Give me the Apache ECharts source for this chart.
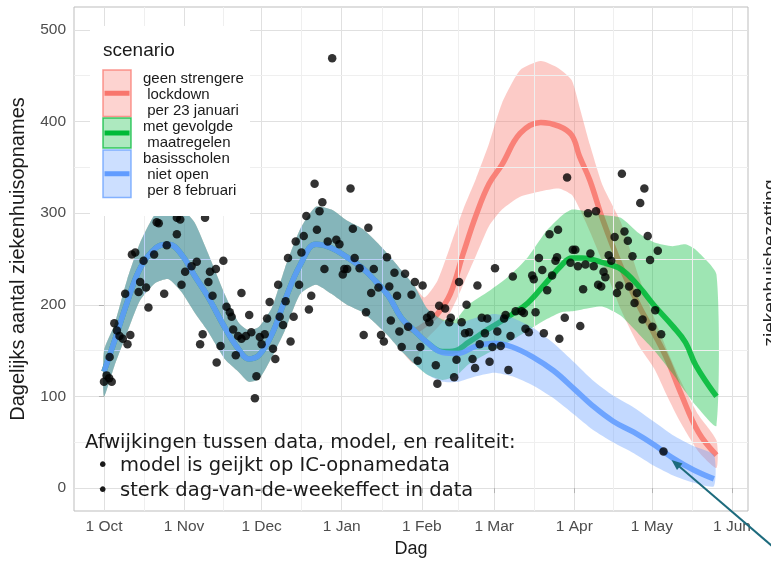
<!DOCTYPE html>
<html>
<head>
<meta charset="utf-8">
<script src="https://cdn.jsdelivr.net/npm/echarts@6/dist/echarts.min.js"></script>
<style>
  html, body { margin: 0; padding: 0; background: #fff; }
  #chart { width: 771px; height: 563px; }
</style>
</head>
<body>
<div id="chart"></div>
<script>
// x = dagen sinds 1 oktober
const monthStarts = [0, 31, 61, 92, 123, 151, 182, 212, 243];
const monthLabels = ['1 Oct', '1 Nov', '1 Dec', '1 Jan', '1 Feb', '1 Mar', '1 Apr', '1 May', '1 Jun'];
const yTicks = [0, 100, 200, 300, 400, 500];
const yMinor = [50, 150, 250, 350, 450];

// gedeelde modelfit (alle scenario's gelijk tot eind januari)
const sharedDays = [0, 4, 9, 14, 20, 25, 30, 35, 40, 47, 52, 56, 60, 65, 70, 76, 82, 88, 94, 100, 105, 110, 115, 120];
const sharedFit  = [127, 160, 203, 240, 262, 266, 255, 232, 210, 174, 152, 141, 145, 168, 205, 244, 266, 262, 252, 240, 226, 210, 186, 172];
const sharedLow  = [100, 133, 170, 205, 224, 228, 214, 192, 172, 140, 127, 116, 119, 143, 172, 212, 222, 212, 200, 192, 180, 166, 150, 136];
const sharedHigh = [150, 178, 228, 268, 300, 308, 305, 290, 258, 210, 181, 172, 176, 197, 240, 283, 307, 304, 292, 283, 270, 255, 238, 221];

// geen strengere lockdown per 23 januari
const redDays = [124, 129, 134, 139, 144, 149, 154, 161, 169, 176, 181, 184, 188, 193, 200, 207, 213, 218, 223, 230, 237];
const redFit  = [178, 190, 212, 256, 298, 332, 353, 387, 399, 395, 385, 362, 336, 293, 242, 199, 168, 140, 105, 61, 36];
const redLow  = [160, 175, 192, 222, 254, 286, 304, 318, 324, 327, 320, 305, 280, 246, 195, 155, 130, 100, 72, 40, 22];
const redHigh = [208, 226, 264, 304, 338, 376, 420, 456, 466, 458, 445, 416, 375, 330, 290, 230, 185, 150, 118, 80, 52];

// met gevolgde maatregelen
const greenDays = [125, 131, 136, 141, 149, 157, 164, 171, 177, 181, 185, 193, 200, 207, 213, 220, 225, 229, 237];
const greenFit  = [159, 149, 150, 159, 174, 188, 202, 224, 243, 251, 251, 246, 239, 220, 199, 177, 159, 134, 100];
const greenLow  = [124, 118, 122, 135, 148, 160, 172, 184, 192, 193, 195, 198, 188, 168, 150, 125, 105, 90, 68];
const greenHigh = [196, 184, 184, 200, 215, 232, 252, 280, 297, 304, 303, 298, 295, 278, 268, 264, 266, 260, 233];

// basisscholen niet open per 8 februari
const blueDays = [125, 131, 137, 144, 151, 158, 166, 174, 182, 189, 197, 205, 213, 220, 228, 236];
const blueFit  = [159, 148, 147, 155, 158, 154, 143, 128, 108, 90, 73, 61, 47, 33, 20, 10];
const blueLow  = [124, 116, 116, 122, 126, 122, 112, 98, 80, 64, 50, 38, 24, 14, 6, 2];
const blueHigh = [196, 183, 180, 186, 190, 186, 175, 158, 137, 118, 101, 88, 72, 58, 46, 36];

// dagelijkse ziekenhuisopnames [dag, aantal]
const admissions = [
  [0,116],[1,123],[2,120],[3,116],[2.2,143],[4,180],[5,172],[6,166],[7.3,163],[9.1,157],[10.2,167],[8.2,212],
  [13.4,214],[14,225],[16.3,219],[17.2,197],[10.8,255],[12.1,257],[15.3,248],[19.4,255],[20.4,290],[21.2,289],
  [24.3,265],[28.2,277],[28.2,295],[29.5,293],[23.3,212],[30,222],[31.4,236],[33.9,242],[35.9,247],[38.2,168],
  [37.2,157],[39.1,295],[41,236],[40.4,225],[42,210],[43.6,137],[46.2,248],[43.3,239],[53.2,213],[47.4,198],
  [48.7,192],[49.4,187],[56.2,189],[50,173],[51.9,166],[53.2,163],[54.9,166],[57,170],[60.3,165],[62.2,168],
  [61,157],[45.1,155],[51,145],[59,122],[58.4,98],[64.1,203],[63.1,185],[67.4,222],[68,187],[69.3,178],
  [70.3,204],[65.4,152],[66.3,141],[72.2,160],[73.4,187],[71.2,251],[74.2,269],[76.4,257],[75.5,222],[77.3,275],
  [78.3,297],[82.4,282],[83.4,302],[84.5,312],[80.2,210],[79.3,195],[85.3,239],[86.6,269],[81.5,332],
  [88.3,469],[95.4,327],[96.3,283],[102.3,284],[89.9,271],[91.1,266],[97,251],[93,239],[94.1,239],[92.4,233],
  [98.9,240],[104.4,239],[109.5,252],[112.4,235],[116.5,234],[103.4,213],[106.2,219],[110.4,220],[113.4,210],
  [119,211],[120.3,225],[123.3,221],[101.4,192],[100.5,167],[107.2,167],[108.3,160],[111,183],[114.3,171],
  [117.7,176],[115.2,154],[122.4,154],[121.4,139],[125,186],[126.5,189],[125.9,181],[129.7,199],[128.4,134],[129,114],
  [137.4,225],[144.5,221],[151.3,240],[158.2,231],[132,196],[134.2,186],[133.6,181],[140.3,200],[138.4,181],
  [139.7,169],[141.3,170],[146.2,186],[148.3,185],[147.4,169],[145.4,157],[150.3,154],[152.2,171],[153.5,155],
  [154.8,185],[155.4,189],[157.3,166],[159.3,193],[161.6,193],[162.5,191],[167,192],[149.2,138],[142.6,141],
  [143.6,131],[136.4,140],[135.5,121],[156.5,129],[163.1,174],[164.4,170],[170.2,169],[176.2,163],[172.4,277],
  [168.3,251],[165.7,232],[166.3,228],[169.6,238],[173.4,232],[174.7,248],[171.5,216],[175.7,282],[175.3,252],
  [179.2,339],[200.4,343],[209.1,327],[207.5,311],[187.3,300],[190.4,302],[201.4,280],[197.6,274],[202.7,270],
  [210.4,275],[214.3,259],[211.3,249],[204.5,253],[181.4,260],[182.4,260],[188.2,256],[195.3,254],[196.3,248],
  [180.5,246],[183.4,242],[186.3,244],[189.5,242],[193.3,236],[194,230],[191.2,222],[192.4,220],[199.4,221],
  [203.2,220],[198.5,213],[206.2,213],[205.3,202],[185.4,217],[213.3,194],[208.4,184],[212.2,176],[215.6,168],
  [178.3,186],[184.3,177],[216.5,40]
];

const scenarios = [
  { name: 'geen strengere\n lockdown\n per 23 januari', color: '#F8766D',
    days: redDays, fit: redFit, low: redLow, high: redHigh },
  { name: 'met gevolgde\n maatregelen', color: '#00BA38',
    days: greenDays, fit: greenFit, low: greenLow, high: greenHigh },
  { name: 'basisscholen\n niet open\n per 8 februari', color: '#619CFF',
    days: blueDays, fit: blueFit, low: blueLow, high: blueHigh }
];

const notes = [
  'Afwijkingen tussen data, model, en realiteit:',
  'model is geijkt op IC-opnamedata',
  'sterk dag-van-de-weekeffect in data'
];

// hulplijnen halverwege de maanden (ggplot minor breaks)
const xMinor = monthStarts.slice(1).map((m, i) => (m + monthStarts[i]) / 2);

const chart = echarts.init(document.getElementById('chart'));
const series = [];

series.push({
  type: 'line', data: [], silent: true, z: 1,
  markLine: {
    silent: true, symbol: 'none', label: { show: false },
    lineStyle: { color: '#efefef', width: 1, type: 'solid' },
    data: xMinor.map(v => ({ xAxis: v })).concat(yMinor.map(v => ({ yAxis: v })))
  }
});

// band als één polygoon: bovenrand heen, onderrand terug
function bandRenderer(color) {
  return function (params, api) {
    if (params.dataIndexInside !== 0) return null;
    const top = [], bottom = [];
    for (let i = 0; i < params.dataInsideLength; i++) {
      top.push(api.coord([api.value(0, i), api.value(2, i)]));
      bottom.push(api.coord([api.value(0, i), api.value(1, i)]));
    }
    return {
      type: 'polygon',
      shape: { points: top.concat(bottom.reverse()), smooth: 0.2 },
      style: { fill: color, opacity: 0.38 }
    };
  };
}

// volgorde zoals in ggplot: lint en lijn per scenario, later scenario erover
scenarios.forEach((s, k) => {
  const days = sharedDays.concat(s.days);
  const fit = sharedFit.concat(s.fit);
  const low = sharedLow.concat(s.low);
  const high = sharedHigh.concat(s.high);
  series.push({
    type: 'custom', silent: true, z: 2 + k * 2,
    renderItem: bandRenderer(s.color),
    encode: { x: 0, y: [1, 2] },
    data: days.map((d, i) => [d, low[i], high[i]])
  });
  series.push({
    type: 'line', symbol: 'none', smooth: 0.4, silent: true, z: 3 + k * 2,
    lineStyle: { color: s.color, width: 5.5, opacity: 0.88 },
    data: days.map((d, i) => [d, fit[i]])
  });
});

series.push({
  type: 'scatter', data: admissions, symbolSize: 8.5,
  itemStyle: { color: '#000' }, z: 10
});

// legenda (in het paneel, met witte achtergrond)
const keyTop = [70, 118, 150];
const keyHeight = [46.5, 30, 47.5];
const graphic = [
  { type: 'rect', z: 50, shape: { x: 90, y: 26, width: 160, height: 190 }, style: { fill: '#fff' } },
  { type: 'text', z: 51, x: 103, y: 51,
    style: { text: 'scenario', fontSize: 19, fontFamily: 'Liberation Sans', fill: '#1a1a1a', verticalAlign: 'middle' } }
];
scenarios.forEach((s, k) => {
  const y0 = keyTop[k], h = keyHeight[k];
  graphic.push({ type: 'rect', z: 51, shape: { x: 103, y: y0, width: 28, height: h },
    style: { fill: echarts.color.modifyAlpha(s.color, 0.32), stroke: echarts.color.modifyAlpha(s.color, 0.75), lineWidth: 1.5 } });
  graphic.push({ type: 'line', z: 52, shape: { x1: 104.5, y1: y0 + h / 2, x2: 129.5, y2: y0 + h / 2 },
    style: { stroke: s.color, lineWidth: 5 } });
  graphic.push({ type: 'text', z: 52, x: 143, y: y0 + 0.5,
    style: { text: s.name, fontSize: 15, lineHeight: 16.2, fontFamily: 'Liberation Sans', fill: '#1a1a1a', verticalAlign: 'top' } });
});

// toelichting onderin
graphic.push({ type: 'text', z: 52, x: 85, y: 443,
  style: { text: notes[0], fontSize: 19.5, fontFamily: 'DejaVu Sans', fill: '#1a1a1a', verticalAlign: 'middle' } });
[notes[1], notes[2]].forEach((t, i) => {
  const y = 466 + i * 25;
  graphic.push({ type: 'text', z: 52, x: 97, y: y,
    style: { text: '\u2022', fontSize: 19.5, fontFamily: 'DejaVu Sans', fill: '#1a1a1a', verticalAlign: 'middle' } });
  graphic.push({ type: 'text', z: 52, x: 120, y: y,
    style: { text: t, fontSize: 19.5, fontFamily: 'DejaVu Sans', fill: '#1a1a1a', verticalAlign: 'middle' } });
});

// rand van de naastgelegen figuur + pijl
graphic.push({ type: 'text', z: 52, x: 771, y: 263, rotation: Math.PI / 2,
  style: { text: 'ziekenhuisbezetting', fontSize: 19, fontFamily: 'Liberation Sans', fill: '#222', align: 'center', verticalAlign: 'middle' } });
graphic.push({ type: 'line', z: 52, shape: { x1: 772, y1: 546, x2: 677, y2: 464.5 },
  style: { stroke: '#1d6b7d', lineWidth: 2 } });
graphic.push({ type: 'polygon', z: 52, shape: { points: [[671.5, 460], [682.5, 463.5], [677, 470]] },
  style: { fill: '#1d6b7d' } });

chart.setOption({
  animation: false,
  backgroundColor: '#fff',
  textStyle: { fontFamily: 'Liberation Sans' },
  grid: { left: 72, top: 7, width: 676, height: 506, show: true, borderColor: '#bdbdbd', borderWidth: 1, backgroundColor: '#fff' },
  xAxis: {
    type: 'value', min: -11.6, max: 249.2,
    axisLine: { show: false },
    axisTick: { customValues: monthStarts, length: 5, lineStyle: { color: '#b3b3b3' } },
    axisLabel: { customValues: monthStarts, margin: 8, fontSize: 15.5, color: '#4d4d4d',
      formatter: v => monthLabels[monthStarts.indexOf(v)] },
    splitLine: { show: true, lineStyle: { color: '#e0e0e0', width: 1 } },
    name: 'Dag', nameLocation: 'middle', nameGap: 29,
    nameTextStyle: { fontSize: 18, color: '#1a1a1a' }
  },
  yAxis: {
    type: 'value', min: -25, max: 525,
    axisLine: { show: false },
    axisTick: { show: true, customValues: yTicks, length: 5, lineStyle: { color: '#b3b3b3' } },
    axisLabel: { customValues: yTicks, margin: 8, fontSize: 15.5, color: '#4d4d4d' },
    splitLine: { show: true, lineStyle: { color: '#e0e0e0', width: 1 } },
    name: 'Dagelijks aantal ziekenhuisopnames', nameLocation: 'middle', nameGap: 46, nameRotate: 90,
    nameTextStyle: { fontSize: 20, color: '#1a1a1a' }
  },
  graphic: graphic,
  series: series
});
</script>
</body>
</html>
